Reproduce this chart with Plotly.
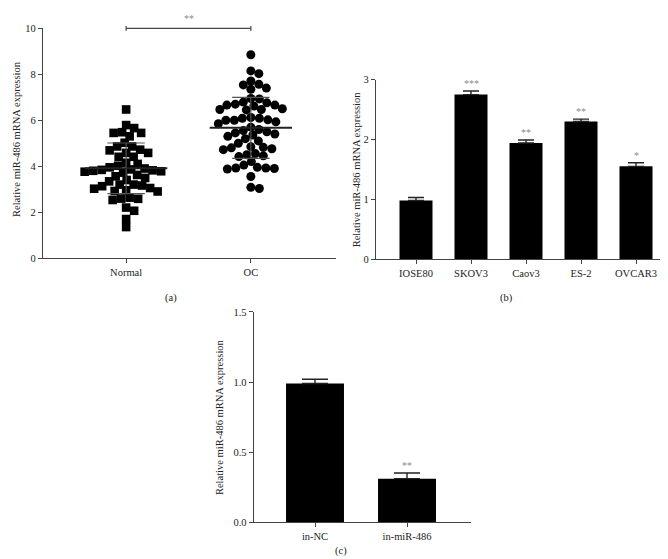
import numpy as np
import plotly.graph_objects as go

W, H = 668, 559

# ---------------- data ----------------
group_labels = ["Normal", "OC"]
normal_values = [6.47,
                 5.79, 5.66, 5.48, 5.45, 5.45, 5.30,
                 5.02, 4.86, 4.86, 4.72, 4.69, 4.58, 4.58, 4.41, 4.41,
                 4.15, 4.10,
                 4.02, 3.95, 3.90, 3.86, 3.84, 3.82, 3.80, 3.78, 3.76, 3.72,
                 3.62, 3.56, 3.49, 3.40, 3.34,
                 3.20, 3.20, 3.16, 3.13, 3.05, 3.02, 2.95, 2.92, 2.90,
                 2.63, 2.59, 2.58, 2.53,
                 2.20, 2.06, 1.70, 1.35]
oc_values = [8.85, 8.15, 8.03, 7.71, 7.57, 7.54, 7.40, 7.35,
             6.95, 6.93, 6.79, 6.76, 6.70,
             6.66, 6.66, 6.62, 6.50, 6.47, 6.47, 6.45,
             6.12, 6.09, 6.09, 6.02, 6.00, 6.00, 5.93, 5.85,
             5.70, 5.60, 5.55, 5.50, 5.45, 5.40, 5.36, 5.30, 5.20,
             5.10, 5.00, 4.85, 4.82, 4.80, 4.76, 4.72, 4.55, 4.50, 4.45, 4.42,
             4.20, 4.05, 3.95, 3.92, 3.92, 3.90, 3.88,
             3.55, 3.08, 3.03]
group_mean = [3.91, 5.67]
group_sd = [1.10, 1.33]
group_sig = "**"

cell_lines = ["IOSE80", "SKOV3", "Caov3", "ES-2", "OVCAR3"]
cell_expr = [0.98, 2.75, 1.94, 2.30, 1.55]
cell_err = [0.05, 0.06, 0.05, 0.04, 0.06]
cell_sig = ["", "***", "**", "**", "*"]

inhib_groups = ["in-NC", "in-miR-486"]
inhib_expr = [0.99, 0.31]
inhib_err = [0.03, 0.04]
inhib_sig = ["", "**"]

y_title = "Relative miR-486 mRNA expression"
panel_labels = ["(a)", "(b)", "(c)"]

# ---------------- layout geometry (pixels) ----------------
FONT = "Liberation Serif"
AX = "#444444"
TXT = "#222222"
STAR = "#8a8a8a"


def dx(px):
    return px / W


def dy(py):
    return 1 - py / H


# panel a
a_left, a_right, a_top, a_bot = 35, 328, 15.7, 250
a_xr = [1 - (118 - a_left) / 124.5, 2 + (a_right - 243) / 124.5]
a_yr = [0, 10]
# panel b
b_left, b_right, b_top, b_bot = 368, 666, 68, 251
b_xr = [-(408 - b_left) / 55.0, 4 + (b_right - 628) / 55.0]
b_yr = [0, 3]
# panel c
c_left, c_right, c_top, c_bot = 245.7, 463, 305, 519.3
c_xr = [-(307 - c_left) / 92.0, 1 + (c_right - 399) / 92.0]
c_yr = [0, 1.5]


def beeswarm(vals, xscale, yscale, d):
    """horizontal offsets (data units) so markers do not overlap in pixel space"""
    order = np.argsort(vals)[::-1]
    placed = []
    offs = np.zeros(len(vals))
    cands = [0.0]
    for k in np.arange(0.5, 80, 0.5):
        cands += [k, -k]
    for i in order:
        y = vals[i] * yscale
        for c in cands:
            ok = True
            for (px, py) in placed:
                if (px - c) ** 2 + (py - y) ** 2 < d * d:
                    ok = False
                    break
            if ok:
                placed.append((c, y))
                offs[i] = c / xscale
                break
    return offs


xs_a = (a_right - a_left) / (a_xr[1] - a_xr[0])
ys_a = (a_bot - a_top) / (a_yr[1] - a_yr[0])

fig = go.Figure()

groups = [normal_values, oc_values]
symbols = ["square", "circle"]
for gi, vals in enumerate(groups):
    v = np.array(vals)
    off = beeswarm(v, xs_a, ys_a, 8.2)
    fig.add_trace(go.Scatter(
        x=gi + 1 + off, y=v, mode="markers",
        marker=dict(symbol=symbols[gi], size=9 if gi == 1 else 8.6, color="black",
                    line=dict(width=0)),
        xaxis="x", yaxis="y", showlegend=False, cliponaxis=False))

shapes = []
for gi in range(2):
    xc = gi + 1
    m, s = group_mean[gi], group_sd[gi]
    shapes.append(dict(type="line", xref="x", yref="y", x0=xc, x1=xc, y0=m - s, y1=m + s,
                       line=dict(color="#555555", width=1.2), layer="above"))
    for yy in (m - s, m + s):
        shapes.append(dict(type="line", xref="x", yref="y", x0=xc - 0.15, x1=xc + 0.15,
                           y0=yy, y1=yy, line=dict(color="#555555", width=1.2), layer="above"))
    shapes.append(dict(type="line", xref="x", yref="y", x0=xc - 0.33, x1=xc + 0.33,
                       y0=m, y1=m, line=dict(color="#222222", width=2), layer="above"))

# significance bar on panel a (at y = 10, top of axis)
sig_y = dy(a_top + (a_yr[1] - 10) * ys_a)
shapes.append(dict(type="line", xref="x", yref="paper", x0=1, x1=2, y0=sig_y, y1=sig_y,
                   line=dict(color=AX, width=1.2)))
for xc in (1, 2):
    shapes.append(dict(type="line", xref="x", yref="paper", x0=xc, x1=xc,
                       y0=sig_y - 2.5 / H, y1=sig_y + 2.5 / H, line=dict(color=AX, width=1.2)))

# panel b bars
fig.add_trace(go.Bar(
    x=cell_lines, y=cell_expr, width=0.6, marker=dict(color="black", line=dict(width=0)),
    error_y=dict(type="data", array=cell_err, arrayminus=[0] * len(cell_err), color="#222222",
                 thickness=1.4, width=8),
    xaxis="x2", yaxis="y2", showlegend=False))

# panel c bars
fig.add_trace(go.Bar(
    x=inhib_groups, y=inhib_expr, width=0.63, marker=dict(color="black", line=dict(width=0)),
    error_y=dict(type="data", array=inhib_err, arrayminus=[0] * len(inhib_err), color="#222222",
                 thickness=1.4, width=13),
    xaxis="x3", yaxis="y3", showlegend=False))

annotations = []
annotations.append(dict(x=1.5, y=sig_y, xref="x", yref="paper", text=group_sig, showarrow=False,
                        yanchor="bottom", yshift=2, font=dict(family=FONT, size=10, color=STAR)))
for c, v, e, s in zip(cell_lines, cell_expr, cell_err, cell_sig):
    if s:
        annotations.append(dict(x=c, y=v + e, xref="x2", yref="y2", text=s, showarrow=False,
                                yanchor="bottom", yshift=0,
                                font=dict(family=FONT, size=10, color=STAR)))
for c, v, e, s in zip(inhib_groups, inhib_expr, inhib_err, inhib_sig):
    if s:
        annotations.append(dict(x=c, y=v + e, xref="x3", yref="y3", text=s, showarrow=False,
                                yanchor="bottom", yshift=0,
                                font=dict(family=FONT, size=10, color=STAR)))

# axis titles
for xp, yp in [(9, 128.5), (348, (b_top + b_bot) / 2), (211, (c_top + c_bot) / 2)]:
    annotations.append(dict(x=dx(xp), y=dy(yp), xref="paper", yref="paper", text=y_title,
                            textangle=-90, showarrow=False, xanchor="center", yanchor="middle",
                            font=dict(family=FONT, size=10.5, color=TXT)))
# panel labels
for lab, xp, yp in zip(panel_labels, [163, 498, 333], [291, 291, 549]):
    annotations.append(dict(x=dx(xp), y=dy(yp), xref="paper", yref="paper", text=lab,
                            showarrow=False, xanchor="center", yanchor="middle",
                            font=dict(family=FONT, size=10.5, color=TXT)))

axis_common = dict(showgrid=False, zeroline=False, showline=True, linecolor=AX, linewidth=1.2,
                   ticks="outside", ticklen=4, tickwidth=1, tickcolor=AX,
                   tickfont=dict(family=FONT, size=10.5, color=TXT), fixedrange=True)

fig.update_layout(
    width=W, height=H, margin=dict(l=0, r=0, t=0, b=0),
    paper_bgcolor="white", plot_bgcolor="white", showlegend=False,
    xaxis=dict(domain=[dx(a_left), dx(a_right)], range=a_xr, anchor="y",
               tickvals=[1, 2], ticktext=group_labels, **axis_common),
    yaxis=dict(domain=[dy(a_bot), dy(a_top)], range=a_yr, anchor="x",
               tickvals=[0, 2, 4, 6, 8, 10], **axis_common),
    xaxis2=dict(domain=[dx(b_left), dx(b_right)], range=b_xr, anchor="y2", **axis_common),
    yaxis2=dict(domain=[dy(b_bot), dy(b_top)], range=b_yr, anchor="x2",
                tickvals=[0, 1, 2, 3], **axis_common),
    xaxis3=dict(domain=[dx(c_left), dx(c_right)], range=c_xr, anchor="y3", **axis_common),
    yaxis3=dict(domain=[dy(c_bot), dy(c_top)], range=c_yr, anchor="x3",
                tickvals=[0, 0.5, 1.0, 1.5], ticktext=["0.0", "0.5", "1.0", "1.5"], **axis_common),
    shapes=shapes, annotations=annotations,
)

fig.write_html("out.html")
